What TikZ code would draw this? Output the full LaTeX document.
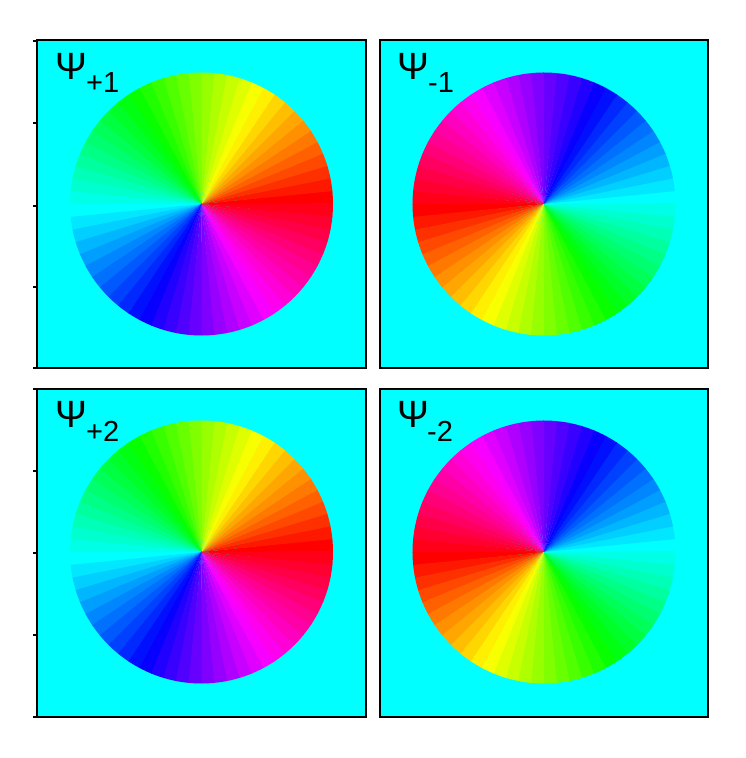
\documentclass[tikz,border=0pt]{standalone}
\usepackage{fontspec}
\setmainfont{Liberation Sans}
\definecolor{bgcyan}{RGB}{0,255,255}
\tikzset{
  panelfill/.style={fill=bgcyan},
  panelborder/.style={draw=black, line width=1.8pt},
  tickline/.style={draw=black, line width=1.2pt},
  psilabel/.style={inner sep=0pt, anchor=base west, font=\fontsize{38}{40}\selectfont},
  sublabel/.style={inner sep=0pt, anchor=base west, font=\fontsize{29}{31}\selectfont}
}
\newcommand\drawwheel[3]{%
  \foreach \k in {0,...,63}{%
    \pgfmathsetmacro\hh{mod(\k*5.625+#3,360)/360}%
    \definecolor{sectcol}{hsb}{\hh,1,1}%
    \pgfmathsetmacro\aa{\k*5.625}%
    \pgfmathsetmacro\bb{\k*5.625+6.0}%
    \fill[sectcol] (#1,#2) -- ++(\aa:131.5) arc[start angle=\aa, end angle=\bb, radius=131.5] -- cycle;
  }}
\begin{document}
\begin{tikzpicture}[x=1pt,y=1pt]
\useasboundingbox (0,0) rectangle (745,758);
% panels
\fill[panelfill] (37,390) rectangle (366,718);
\fill[panelfill] (380,390) rectangle (708,718);
\fill[panelfill] (37,41) rectangle (366,369);
\fill[panelfill] (380,41) rectangle (708,369);
% wheels
\drawwheel{201.5}{554}{0}
\drawwheel{544}{554}{180}
\drawwheel{201.5}{206}{0}
\drawwheel{544}{206}{180}
% borders
\draw[panelborder] (37,390) rectangle (366,718);
\draw[panelborder] (380,390) rectangle (708,718);
\draw[panelborder] (37,41) rectangle (366,369);
\draw[panelborder] (380,41) rectangle (708,369);
% ticks
\foreach \t in {717,635,552,471,390,369,287,205,123,41}{
  \draw[tickline] (33,\t) -- (37,\t);
}
% labels
\node[psilabel] (psiA) at (55,678) {Ψ};
\node[sublabel] (subA) at (86,665) {+1};
\node[psilabel] (psiB) at (397,678) {Ψ};
\node[sublabel] (subB) at (428,665) {-1};
\node[psilabel] (psiC) at (55,330) {Ψ};
\node[sublabel] (subC) at (86,316) {+2};
\node[psilabel] (psiD) at (397,330) {Ψ};
\node[sublabel] (subD) at (427,316) {-2};
\end{tikzpicture}
\end{document}
